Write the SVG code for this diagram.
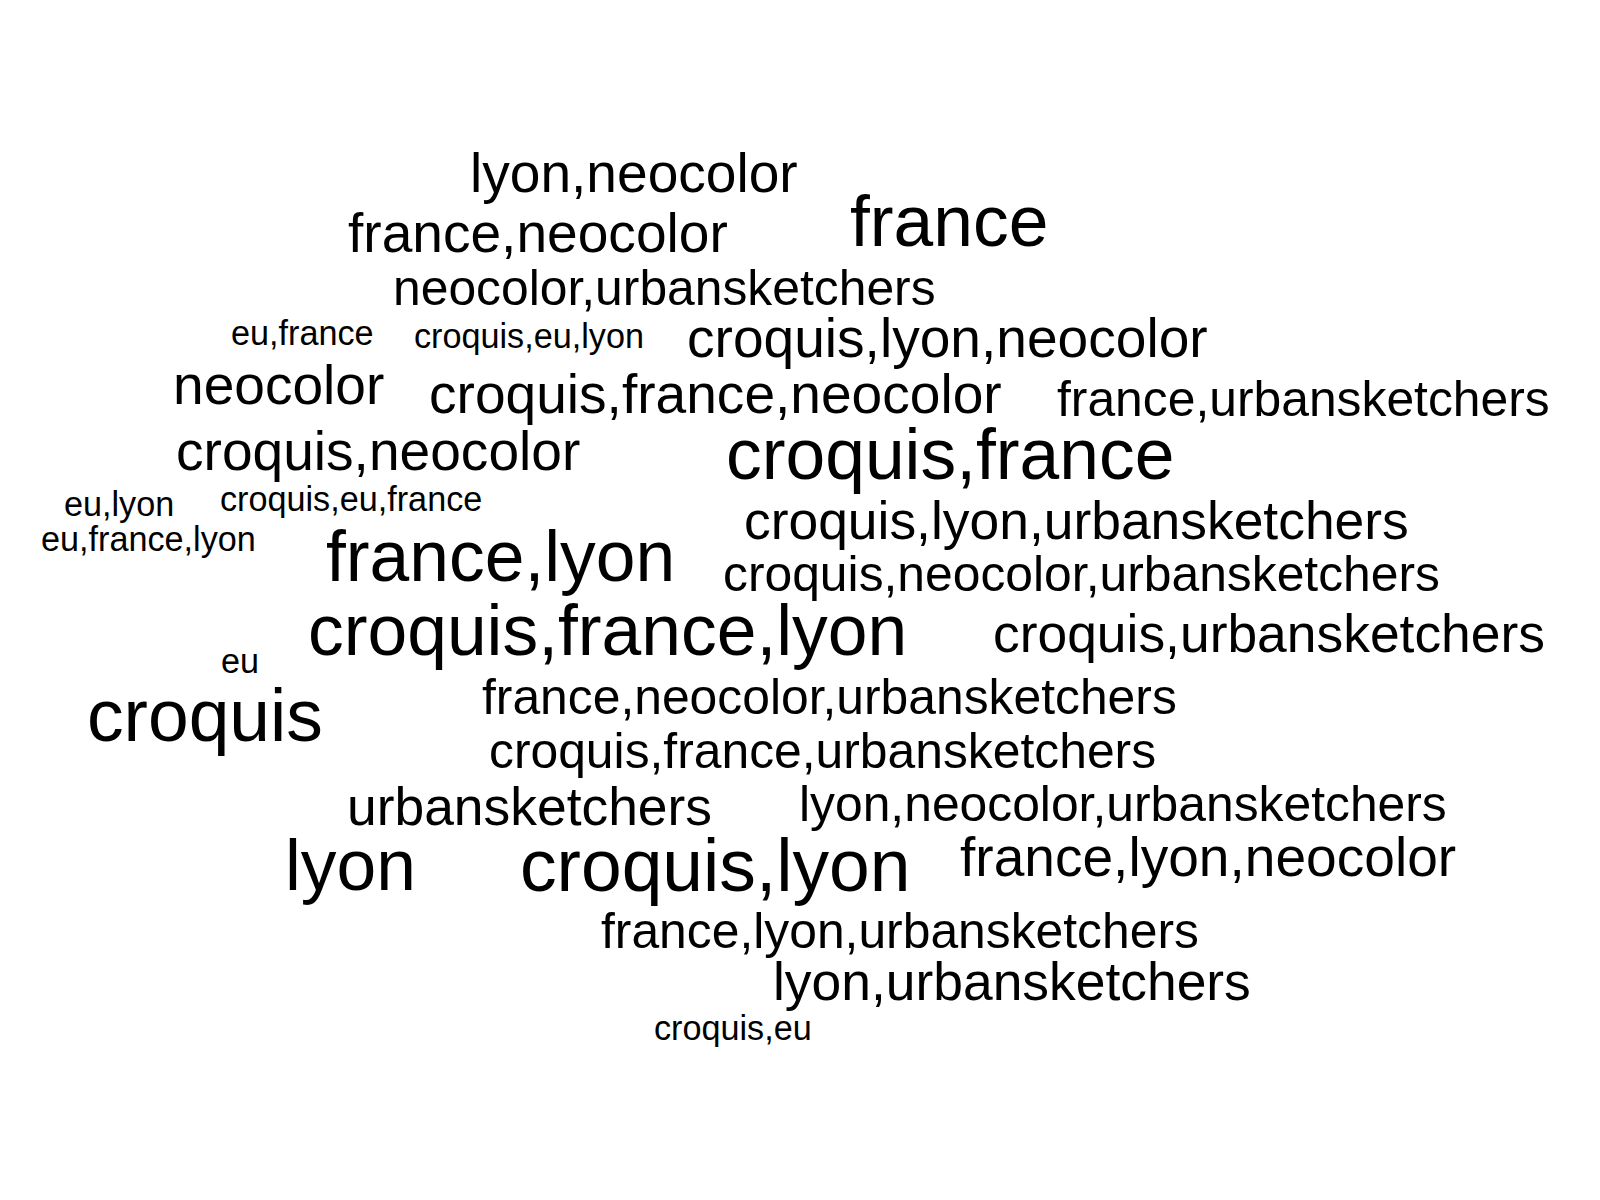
<svg xmlns="http://www.w3.org/2000/svg" width="1600" height="1200" viewBox="0 0 1600 1200">
<style>
text{font-family:"Liberation Sans",Arial,Helvetica,sans-serif;fill:#000}
.s33{font-size:34.2px}.s49{font-size:49.8px}.s52{font-size:53.4px}.s54{font-size:55.1px}.s70{font-size:71.4px}.s73{font-size:73.2px}
</style>
<rect width="1600" height="1200" fill="#fff"/>
<g id="words">
<text id="w1" class="s54" x="470" y="192">lyon,neocolor</text>
<text id="w2" class="s54" x="348" y="252">france,neocolor</text>
<text id="w3" class="s70" x="850" y="246">france</text>
<text id="w4" class="s49" x="393" y="305">neocolor,urbansketchers</text>
<text id="w5" class="s33" x="231" y="345">eu,france</text>
<text id="w6" class="s33" x="414" y="348">croquis,eu,lyon</text>
<text id="w7" class="s54" x="687" y="357">croquis,lyon,neocolor</text>
<text id="w8" class="s54" x="173" y="404">neocolor</text>
<text id="w9" class="s54" x="429" y="413">croquis,france,neocolor</text>
<text id="w10" class="s49" x="1057" y="416">france,urbansketchers</text>
<text id="w11" class="s54" x="176" y="470">croquis,neocolor</text>
<text id="w12" class="s70" x="726" y="479">croquis,france</text>
<text id="w13" class="s33" x="64" y="516">eu,lyon</text>
<text id="w14" class="s33" x="220" y="511">croquis,eu,france</text>
<text id="w15" class="s33" x="41" y="551">eu,france,lyon</text>
<text id="w16" class="s52" x="744" y="539">croquis,lyon,urbansketchers</text>
<text id="w17" class="s70" x="326" y="581">france,lyon</text>
<text id="w18" class="s49" x="723" y="591">croquis,neocolor,urbansketchers</text>
<text id="w19" class="s70" x="308" y="655">croquis,france,lyon</text>
<text id="w20" class="s52" x="993" y="652">croquis,urbansketchers</text>
<text id="w21" class="s33" x="221" y="673">eu</text>
<text id="w22" class="s73" x="87" y="741">croquis</text>
<text id="w23" class="s49" x="482" y="714">france,neocolor,urbansketchers</text>
<text id="w24" class="s49" x="489" y="768">croquis,france,urbansketchers</text>
<text id="w25" class="s52" x="347" y="825">urbansketchers</text>
<text id="w26" class="s49" x="799" y="821">lyon,neocolor,urbansketchers</text>
<text id="w27" class="s70" x="285" y="890">lyon</text>
<text id="w28" class="s73" x="520" y="891">croquis,lyon</text>
<text id="w29" class="s54" x="960" y="876">france,lyon,neocolor</text>
<text id="w30" class="s49" x="601" y="948">france,lyon,urbansketchers</text>
<text id="w31" class="s52" x="773" y="1000">lyon,urbansketchers</text>
<text id="w32" class="s33" x="654" y="1040">croquis,eu</text>
</g>
</svg>
